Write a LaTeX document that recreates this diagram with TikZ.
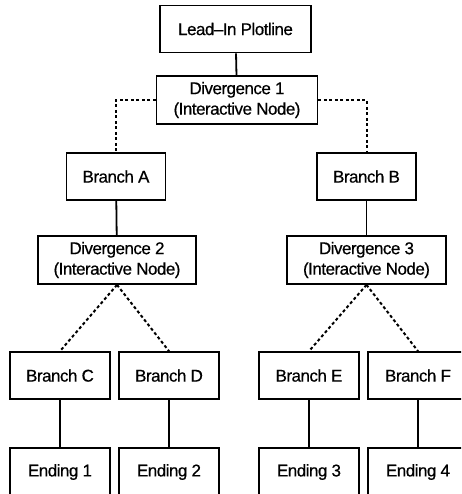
\documentclass[tikz,border=0pt]{standalone}
\usepackage{fontspec}
\setmainfont{Liberation Sans}[LetterSpace=-3, FakeBold=0.6]
\begin{document}
\begin{tikzpicture}[x=1pt,y=-1pt,
  box/.style={draw=black, line width=1.7pt, fill=white, inner sep=0pt,
    align=center, font=\fontsize{17}{20.5}\selectfont},
  solidlink/.style={line width=1.8pt},
  dotlink/.style={line width=2pt, dash pattern=on 3pt off 2.5pt}]
\useasboundingbox (0,0) rectangle (461,494);
\clip (0,0) rectangle (461,494);
\fill[white] (0,0) rectangle (461,494);

% top of the plot
\node[box, minimum width=151pt, minimum height=47pt] (lead) at (235.5,29) {Lead–In Plotline};
\node[box, minimum width=161pt, minimum height=48pt] (div1) at (237,100) {Divergence 1\\(Interactive Node)};

% first split
\node[box, minimum width=99pt, minimum height=47pt] (brA) at (116,176.5) {Branch A};
\node[box, minimum width=99pt, minimum height=47pt] (brB) at (366.5,176.5) {Branch B};
\node[box, minimum width=158pt, minimum height=48pt] (div2) at (117,260) {Divergence 2\\(Interactive Node)};
\node[box, minimum width=159pt, minimum height=48pt] (div3) at (366.5,260) {Divergence 3\\(Interactive Node)};

% second split
\node[box, minimum width=100pt, minimum height=47pt] (brC) at (60,375.5) {Branch C};
\node[box, minimum width=100pt, minimum height=47pt] (brD) at (169,375.5) {Branch D};
\node[box, minimum width=100pt, minimum height=47pt] (brE) at (309,375.5) {Branch E};
\node[box, minimum width=100pt, minimum height=47pt] (brF) at (418,375.5) {Branch F};

% endings
\node[box, minimum width=100pt, minimum height=48pt] (end1) at (60,472) {Ending 1};
\node[box, minimum width=100pt, minimum height=48pt] (end2) at (169,472) {Ending 2};
\node[box, minimum width=100pt, minimum height=48pt] (end3) at (309,472) {Ending 3};
\node[box, minimum width=100pt, minimum height=48pt] (end4) at (418,472) {Ending 4};

% connectors
\draw[solidlink] (lead) -- (div1);
\draw[dotlink] (div1.west) -| (brA.north);
\draw[dotlink] (div1.east) -| (brB.north);
\draw[solidlink] (brA) -- (div2);
\draw[solidlink] (brB) -- (div3);
\draw[dotlink] (div2.south) -- (brC.north);
\draw[dotlink] (div2.south) -- (brD.north);
\draw[dotlink] (div3.south) -- (brE.north);
\draw[dotlink] (div3.south) -- (brF.north);
\draw[solidlink] (brC) -- (end1);
\draw[solidlink] (brD) -- (end2);
\draw[solidlink] (brE) -- (end3);
\draw[solidlink] (brF) -- (end4);
\end{tikzpicture}
\end{document}
